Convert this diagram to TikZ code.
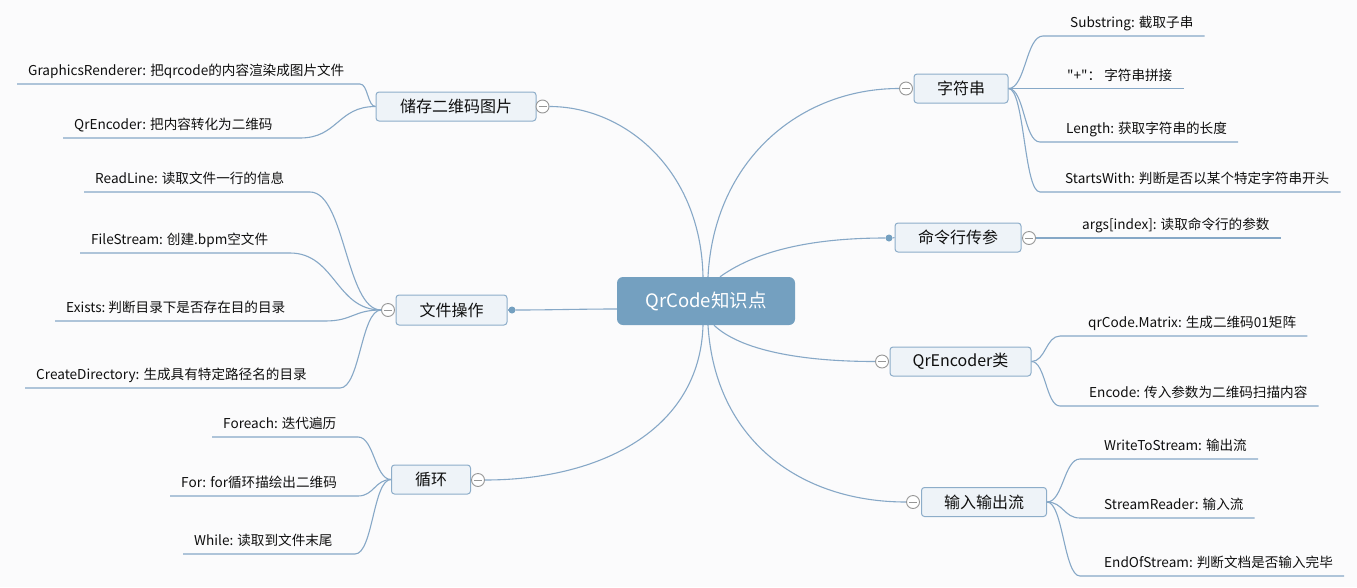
\documentclass[tikz,border=0pt]{standalone}
\usepackage{fontspec}
\setmainfont{Noto Sans CJK SC}
\newfontfamily\rawfont{Noto Sans CJK SC}[Ligatures=TeXOff]
\definecolor{bg}{RGB}{251,251,252}
\definecolor{linec}{RGB}{134,168,199}
\definecolor{ctrfill}{RGB}{116,160,192}
\definecolor{brfill}{RGB}{238,243,248}
\definecolor{brdraw}{RGB}{141,173,201}
\definecolor{circc}{RGB}{150,150,150}
\definecolor{txt}{RGB}{15,15,15}
\begin{document}
\begin{tikzpicture}[x=1pt,y=-1pt,
 link/.style={draw=linec, line width=1.1pt},
 center/.style={rounded corners=6pt, fill=ctrfill, text=white, font=\fontsize{18.5}{20}\selectfont, minimum width=178pt, minimum height=48pt, inner sep=0pt},
 branch/.style={rounded corners=3pt, fill=brfill, draw=brdraw, line width=1pt, text=txt, font=\fontsize{16}{18}\selectfont, minimum height=29pt, inner sep=0pt},
 leaf/.style={text=txt, font=\fontsize{13.6}{15}\selectfont, inner xsep=11pt, inner ysep=6pt, text height=10.5pt, text depth=2pt, anchor=south west},
 fold/.style={circle, draw=circc, fill=white, line width=0.9pt, minimum size=13pt, inner sep=0pt, path picture={\draw[circc, line width=1pt] ([xshift=-4pt]path picture bounding box.center) -- ([xshift=4pt]path picture bounding box.center);}},
 dotc/.style={circle, fill=ctrfill, minimum size=7pt, inner sep=0pt},
]
\fill[bg] (0,0) rectangle (1357,587);
\useasboundingbox (0,0) rectangle (1357,587);

% center
\node[center] (ctr) at (706,301) {QrCode知识点};

% branches
\node[branch, minimum width=160pt] (save) at (456,106.5) {储存二维码图片};
\node[branch, minimum width=94pt] (str) at (961,88.5) {字符串};
\node[branch, minimum width=126pt] (cmd) at (958,237.5) {命令行传参};
\node[branch, minimum width=111pt, minimum height=30pt] (file) at (451.5,310) {文件操作};
\node[branch, minimum width=141pt] (qre) at (960.5,361.5) {QrEncoder类};
\node[branch, minimum width=79pt] (loop) at (431,479.5) {循环};
\node[branch, minimum width=125pt] (io) at (984,502) {输入输出流};

% fold markers and dots
\node[fold] (fsave) at (542.5,106.5) {};
\node[fold] (fstr) at (906,88.5) {};
\node[fold] (fcmd) at (1029,238) {};
\node[dotc] (dcmd) at (889,238) {};
\node[fold] (ffile) at (388,310) {};
\node[dotc] (dfile) at (512,310) {};
\node[fold] (fqre) at (882,361.5) {};
\node[fold] (floop) at (478,480) {};
\node[fold] (fio) at (913,502) {};

% center connectors
\draw[link] ([xshift=-3pt]ctr.north) .. controls (701,170) and (625,106.5) .. (fsave.east);
\draw[link] ([xshift=2pt]ctr.north) .. controls (714,160) and (800,88.5) .. (fstr.west);
\draw[link] ([xshift=14pt]ctr.north) .. controls (760,248) and (820,238) .. (dcmd.west);
\draw[link] (dcmd.east) -- (cmd.west);
\draw[link] ([yshift=-8pt]ctr.west) .. controls (580,309) and (550,310) .. (dfile.east);
\draw[link] (dfile.west) -- (file.east);
\draw[link] ([xshift=-3pt]ctr.south) .. controls (700,430) and (600,480) .. (floop.east);
\draw[link] ([xshift=8pt]ctr.south) .. controls (740,350) and (800,361.5) .. (fqre.west);
\draw[link] ([xshift=2pt]ctr.south) .. controls (715,440) and (800,502) .. (fio.west);

% ---- 字符串 leaves
\node[leaf] (s1) at (1059,36) {Substring: 截取子串};
\node[leaf] (s2) at (1056,88.5) {{\rawfont"+"}：\ 字符串拼接};
\node[leaf] (s3) at (1055,142) {Length: 获取字符串的长度};
\node[leaf] (s4) at (1054,192) {StartsWith: 判断是否以某个特定字符串开头};
\coordinate (ks1) at (1043,36);
\coordinate (ks3) at (1040,142);
\coordinate (ks4) at (1040,192);
\draw[link] (str.east) .. controls +(17,0) and +(-17,0) .. (ks1) -- (s1.south east);
\draw[link] (str.east) -- (s2.south east);
\draw[link] (str.east) .. controls +(16,0) and +(-16,0) .. (ks3) -- (s3.south east);
\draw[link] (str.east) .. controls +(16,0) and +(-16,0) .. (ks4) -- (s4.south east);

% ---- 命令行传参 leaf
\node[leaf] (a1) at (1071,238) {args[index]: 读取命令行的参数};
\draw[link] (fcmd.east) -- (a1.south east);

% ---- QrEncoder类 leaves
\node[leaf] (q1) at (1077,336) {qrCode.Matrix: 生成二维码01矩阵};
\node[leaf] (q2) at (1078,406) {Encode: 传入参数为二维码扫描内容};
\coordinate (kq1) at (1060,336);
\coordinate (kq2) at (1060,406);
\draw[link] (qre.east) .. controls +(14,0) and +(-14,0) .. (kq1) -- (q1.south east);
\draw[link] (qre.east) .. controls +(14,0) and +(-14,0) .. (kq2) -- (q2.south east);

% ---- 输入输出流 leaves
\node[leaf] (w1) at (1093,459) {WriteToStream: 输出流};
\node[leaf] (w2) at (1093,518) {StreamReader: 输入流};
\node[leaf] (w3) at (1093,576) {EndOfStream: 判断文档是否输入完毕};
\coordinate (kw1) at (1080,459);
\coordinate (kw2) at (1080,518);
\coordinate (kw3) at (1080,576);
\draw[link] (io.east) .. controls +(16,0) and +(-16,0) .. (kw1) -- (w1.south east);
\draw[link] (io.east) .. controls +(16,0) and +(-16,0) .. (kw2) -- (w2.south east);
\draw[link] (io.east) .. controls +(16,0) and +(-16,0) .. (kw3) -- (w3.south east);

% ---- 储存二维码图片 leaves
\node[leaf] (g1) at (17,84) {GraphicsRenderer: 把qrcode的内容渲染成图片文件};
\node[leaf] (g2) at (63,138) {QrEncoder: 把内容转化为二维码};
\coordinate (kg1) at (360,84);
\coordinate (kg2) at (300,138);
\draw[link] (g1.south west) -- (kg1) .. controls +(8,0) and +(-8,0) .. (save.west);
\draw[link] (g2.south west) -- (kg2) .. controls +(38,0) and +(-38,0) .. (save.west);

% ---- 文件操作 leaves
\node[leaf] (f1) at (84,192) {ReadLine: 读取文件一行的信息};
\node[leaf] (f2) at (80,253) {FileStream: 创建.bpm空文件};
\node[leaf] (f3) at (55,321) {Exists:\ 判断目录下是否存在目的目录};
\node[leaf] (f4) at (25,388) {CreateDirectory: 生成具有特定路径名的目录};
\coordinate (kf1) at (310,192);
\coordinate (kf2) at (290,253);
\coordinate (kf3) at (325,321);
\coordinate (kf4) at (340,388);
\draw[link] (f1.south west) -- (kf1) .. controls +(35,0) and +(-35,0) .. (ffile.west);
\draw[link] (f2.south west) -- (kf2) .. controls +(45,0) and +(-45,0) .. (ffile.west);
\draw[link] (f3.south west) -- (kf3) .. controls +(28,0) and +(-28,0) .. (ffile.west);
\draw[link] (f4.south west) -- (kf4) .. controls +(20,0) and +(-20,0) .. (ffile.west);

% ---- 循环 leaves
\node[leaf] (l1) at (212,437) {Foreach: 迭代遍历};
\node[leaf] (l2) at (170,496) {For: for循环描绘出二维码};
\node[leaf] (l3) at (183,554) {While: 读取到文件末尾};
\coordinate (kl1) at (358,437);
\coordinate (kl2) at (358,496);
\coordinate (kl3) at (355,554);
\draw[link] (l1.south west) -- (kl1) .. controls +(16,0) and +(-16,0) .. (loop.west);
\draw[link] (l2.south west) -- (kl2) .. controls +(16,0) and +(-16,0) .. (loop.west);
\draw[link] (l3.south west) -- (kl3) .. controls +(18,0) and +(-18,0) .. (loop.west);
\end{tikzpicture}
\end{document}
